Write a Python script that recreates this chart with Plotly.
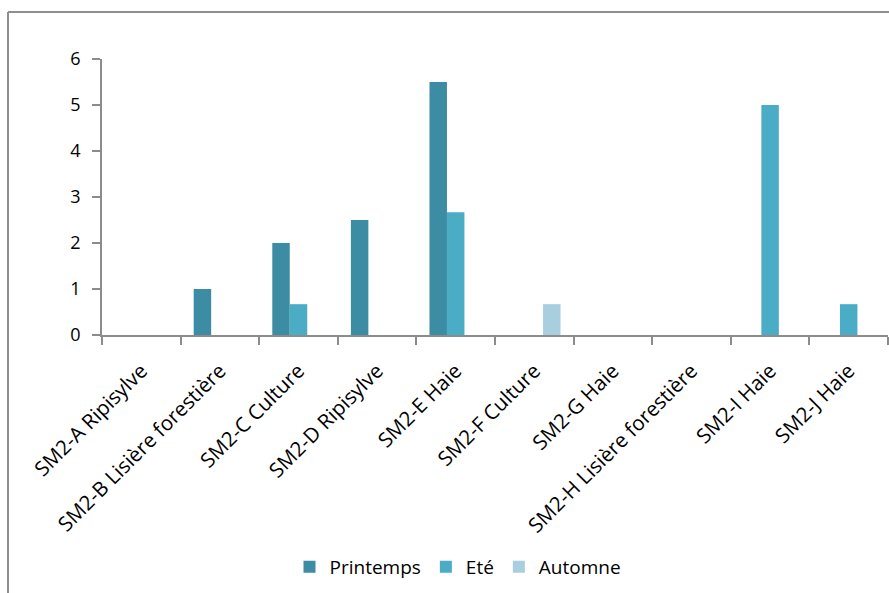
import plotly.graph_objects as go

categories = ["SM2-A Ripisylve", "SM2-B Lisière forestière", "SM2-C Culture", "SM2-D Ripisylve",
              "SM2-E Haie", "SM2-F Culture", "SM2-G Haie", "SM2-H Lisière forestière",
              "SM2-I Haie", "SM2-J Haie"]
printemps = [0, 1, 2, 2.5, 5.5, 0, 0, 0, 0, 0]
ete = [0, 0, 0.67, 0, 2.67, 0, 0, 0, 5, 0.67]
automne = [0, 0, 0, 0, 0, 0.67, 0, 0, 0, 0]
series_names = ["Printemps", "Eté", "Automne"]
colors = ["#3C8CA3", "#4BACC6", "#A9CFDE"]

FONT = "Open Sans"

fig = go.Figure()
for name, vals, col in zip(series_names, [printemps, ete, automne], colors):
    fig.add_trace(go.Bar(x=categories, y=vals, name=name, marker=dict(color=col, line=dict(width=0))))

# plot area: x 102..888, y 59..335
L, R, T, B = 102, 888, 59, 335
W, H = 889, 593
pw, ph = R - L, B - T

def px(x):
    return (x - L) / pw

def py(y):
    return (B - y) / ph

fig.update_layout(
    width=W, height=H,
    margin=dict(l=L, r=W - R, t=T, b=H - B),
    paper_bgcolor="white", plot_bgcolor="white",
    barmode="group", bargap=0.333, bargroupgap=0,
    font=dict(family=FONT, size=17, color="#000000"),
    showlegend=True,
    legend=dict(orientation="h", x=px(458), y=py(567), xanchor="center", yanchor="middle",
                font=dict(family=FONT, size=19), itemwidth=30, traceorder="normal"),
    xaxis=dict(type="category", tickangle=-45, showline=True, linecolor="#8C8C8C", linewidth=1.5,
               ticks="outside", tickson="boundaries", ticklen=8, tickcolor="#8C8C8C", tickwidth=1.5,
               showgrid=False, tickfont=dict(family=FONT, size=20.5), ticklabelstandoff=14),
    yaxis=dict(range=[0, 6], dtick=1, showline=True, linecolor="#8C8C8C", linewidth=1.5,
               ticks="outside", ticklen=8, tickcolor="#8C8C8C", tickwidth=1.5, showgrid=False,
               zeroline=False, tickfont=dict(family=FONT, size=18), ticklabelstandoff=8),
    shapes=[
        dict(type="line", xref="paper", yref="paper", x0=px(8), x1=px(8), y0=py(12), y1=py(620),
             line=dict(color="#8E8E8E", width=2)),
        dict(type="line", xref="paper", yref="paper", x0=px(8), x1=px(900), y0=py(12), y1=py(12),
             line=dict(color="#8E8E8E", width=2)),
    ],
)

fig.write_html("out.html")
